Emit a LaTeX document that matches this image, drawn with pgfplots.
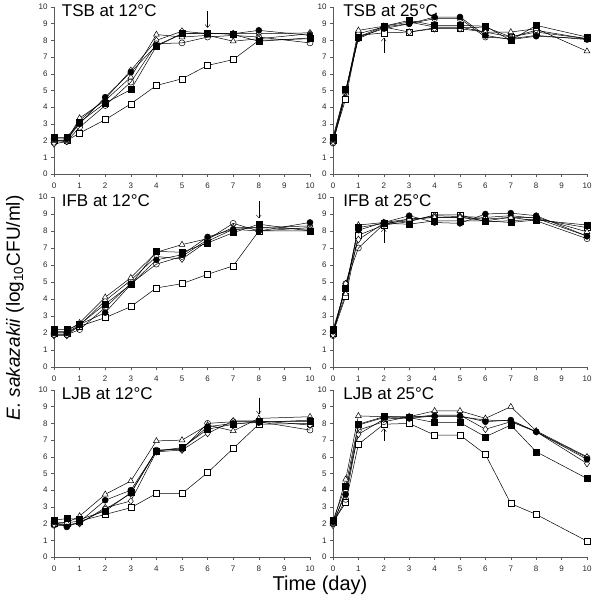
\documentclass[border=0pt]{standalone}
\usepackage{fontspec}
\setmainfont{Liberation Sans}
\usepackage{pgfplots}
\usepackage{pgfplotstable}
\pgfplotsset{compat=1.18}
\usetikzlibrary{arrows.meta}

\pgfplotstableread{
x   fc   oc   fs   os   tr   di
0   2.1  1.9  2.2  2.0  2.0  1.8
0.5 2.1  1.95 2.2  2.0  2.0  1.95
1   3.0  2.8  3.1  2.45 3.35 3.2
2   4.6  4.1  4.25 3.25 4.4  4.5
3   6.1  5.5  5.05 4.2  5.8  6.2
4   7.7  7.8  7.65 5.3  8.35 8.0
5   8.4  7.85 8.4  5.7  8.2  8.55
6   8.4  8.2  8.45 6.5  8.3  8.4
7   8.4  8.3  8.35 6.85 7.95 8.4
8   8.6  8.2  7.95 8.0  8.1  8.4
10  8.3  7.85 8.15 8.1  8.4  8.45
}\tsbA
\pgfplotstableread{
x   fc   oc   fs   os   tr   di
0   2.1  1.85 2.2  2.0  2.0  1.9
0.5 5.0  4.8  5.05 4.5  4.9  4.9
1   8.1  8.2  8.2  8.3  8.6  8.4
2   8.8  8.7  8.85 8.45 8.85 8.8
3   9.0  9.0  9.2  8.5  9.1  8.5
4   9.4  9.3  8.9  8.75 8.8  8.7
5   9.4  9.3  8.9  8.75 8.8  8.7
6   8.3  8.2  8.85 8.8  8.5  8.5
7   8.05 8.1  8.0  8.2  8.5  8.2
8   8.25 8.3  8.9  8.5  8.7  8.6
10  8.1  8.05 8.2  8.1  7.35 8.1
}\tsbB
\pgfplotstableread{
x   fc   oc   fs   os   tr   di
0   2.0  1.9  2.2  2.0  2.1  1.85
0.5 2.0  1.9  2.2  2.0  2.1  1.85
1   2.5  2.2  2.5  2.4  2.6  2.45
2   3.2  3.5  3.7  2.9  4.1  3.9
3   4.85 4.9  4.85 3.55 5.25 5.1
4   6.3  6.05 6.8  4.65 6.75 6.5
5   6.6  6.5  6.75 4.9  7.2  6.35
6   7.65 7.5  7.3  5.45 7.55 7.4
7   8.1  8.45 7.9  5.95 8.2  8.1
8   8.0  8.0  8.4  8.0  8.2  8.2
10  8.5  8.2  8.0  8.0  8.1  8.3
}\ifbA
\pgfplotstableread{
x   fc   oc   fs   os   tr   di
0   2.1  1.85 2.2  2.0  2.1  1.9
0.5 4.6  4.9  4.65 4.15 4.3  4.9
1   8.05 7.0  8.2  7.75 8.35 7.5
2   8.5  8.4  8.45 8.35 8.5  8.45
3   8.9  8.7  8.4  8.55 8.7  8.6
4   8.5  8.8  8.6  8.95 8.8  8.9
5   8.45 8.8  8.6  8.95 8.8  8.85
6   9.0  8.7  8.6  8.55 8.6  8.8
7   9.05 8.8  8.5  8.6  8.8  8.9
8   8.9  8.6  8.65 8.7  8.8  8.75
10  7.7  7.55 8.35 8.2  7.95 7.7
}\ifbB
\pgfplotstableread{
x   fc   oc   fs   os   tr   di
0   2.1  1.9  2.2  2.0  2.1  1.95
0.5 1.8  1.9  2.3  2.05 2.05 1.95
1   2.1  2.05 2.25 2.15 2.45 2.0
2   3.4  2.85 2.75 2.55 3.75 2.95
3   4.0  3.8  3.85 2.95 4.55 3.35
4   6.35 6.4  6.35 3.8  6.95 6.3
5   6.5  6.45 6.55 3.8  7.0  6.4
6   7.8  8.0  7.65 5.05 7.9  7.4
7   8.0  8.1  7.95 6.5  7.55 8.15
8   8.05 8.1  8.1  7.95 8.3  8.15
10  8.2  7.6  8.1  8.0  8.4  7.9
}\ljbA
\pgfplotstableread{
x   fc   oc   fs   os   tr   di
0   2.1  2.0  2.2  2.1  2.0  1.9
0.5 3.75 3.45 4.25 3.25 4.65 4.0
1   7.9  7.6  7.95 6.75 8.45 7.35
2   8.35 8.1  8.4  7.95 8.4  8.25
3   8.3  8.4  8.35 8.0  8.4  8.35
4   8.45 8.4  8.05 7.3  8.75 8.5
5   8.45 8.4  8.05 7.3  8.75 8.5
6   8.1  8.2  7.2  6.15 8.3  7.65
7   8.2  8.15 7.9  3.2  9.0  8.1
8   7.5  7.5  6.3  2.55 7.55 7.5
10  5.85 5.95 4.7  0.95 6.0  5.6
}\ljbB

\pgfplotsset{
  panel/.style={
    scale only axis, clip=false,
    xmin=0, xmax=10, ymin=0, ymax=10,
    axis x line*=bottom, axis y line*=left,
    axis line style={-, draw=black!65},
    xtick={0,...,10}, ytick={0,...,10},
    tick align=outside, major tick length=3pt,
    tick style={draw=black!65, thin},
    tick label style={font=\fontsize{8}{9}\selectfont, text=black!85},
    xticklabel style={yshift=-2pt},
    /pgf/number format/assume math mode=true,
    every axis plot/.append style={black, line width=0.5pt, mark size=3pt},
  },
  pfc/.style={mark=*, mark options={fill=black}},
  poc/.style={mark=o, mark options={fill=white}},
  pfs/.style={mark=square*, mark options={fill=black}},
  pos/.style={mark=square*, mark options={fill=white}},
  ptr/.style={mark=triangle*, mark size=3.4pt, mark options={fill=white}},
  pdi/.style={mark=diamond*, mark size=3.4pt, mark options={fill=white}},
}
\newcommand{\panelplots}[1]{%
  \addplot[pos] table[x=x,y=os]{#1};
  \addplot[pdi] table[x=x,y=di]{#1};
  \addplot[poc] table[x=x,y=oc]{#1};
  \addplot[ptr] table[x=x,y=tr]{#1};
  \addplot[pfc] table[x=x,y=fc]{#1};
  \addplot[pfs] table[x=x,y=fs]{#1};
}
\newcommand{\ptitle}[2]{\node[anchor=base west, inner sep=0pt, font=\fontsize{17}{17}\selectfont] at (axis cs:#1,9.45) {#2};}

\begin{document}
\begin{tikzpicture}
\useasboundingbox (0,0) rectangle (592pt,608pt);
% top row
\begin{axis}[panel, at={(54pt,434pt)}, anchor=south west, width=256pt, height=167pt]
\panelplots{\tsbA}
\ptitle{0.3}{TSB at 12°C}
\draw[-{Straight Barb[length=3pt,width=5pt]}, thin] (axis cs:6,9.75) -- (axis cs:6,8.75);
\end{axis}
\begin{axis}[panel, at={(333pt,434pt)}, anchor=south west, width=254pt, height=167pt]
\panelplots{\tsbB}
\ptitle{0.4}{TSB at 25°C}
\draw[-{Straight Barb[length=3pt,width=5pt]}, thin] (axis cs:2,7.25) -- (axis cs:2,8.15);
\end{axis}
% middle row
\begin{axis}[panel, at={(54pt,241pt)}, anchor=south west, width=256pt, height=170pt]
\panelplots{\ifbA}
\ptitle{0.3}{IFB at 12°C}
\draw[-{Straight Barb[length=3pt,width=5pt]}, thin] (axis cs:8,9.75) -- (axis cs:8,8.75);
\end{axis}
\begin{axis}[panel, at={(333pt,241pt)}, anchor=south west, width=254pt, height=170pt]
\panelplots{\ifbB}
\ptitle{0.4}{IFB at 25°C}
\draw[-{Straight Barb[length=3pt,width=5pt]}, thin] (axis cs:2,7.3) -- (axis cs:2,8.15);
\end{axis}
% bottom row
\begin{axis}[panel, at={(54pt,51pt)}, anchor=south west, width=256pt, height=167pt]
\panelplots{\ljbA}
\ptitle{0.3}{LJB at 12°C}
\draw[-{Straight Barb[length=3pt,width=5pt]}, thin] (axis cs:8,9.55) -- (axis cs:8,8.55);
\end{axis}
\begin{axis}[panel, at={(333pt,51pt)}, anchor=south west, width=254pt, height=167pt]
\panelplots{\ljbB}
\ptitle{0.4}{LJB at 25°C}
\draw[-{Straight Barb[length=3pt,width=5pt]}, thin] (axis cs:2,6.95) -- (axis cs:2,7.7);
\end{axis}
\node[rotate=90, font=\fontsize{19}{19}\selectfont] at (15pt,300pt) {\textit{E. sakazakii} (log\textsubscript{10}CFU/ml)};
\node[font=\fontsize{20}{20}\selectfont] at (320pt,23pt) {Time (day)};
\end{tikzpicture}
\end{document}
